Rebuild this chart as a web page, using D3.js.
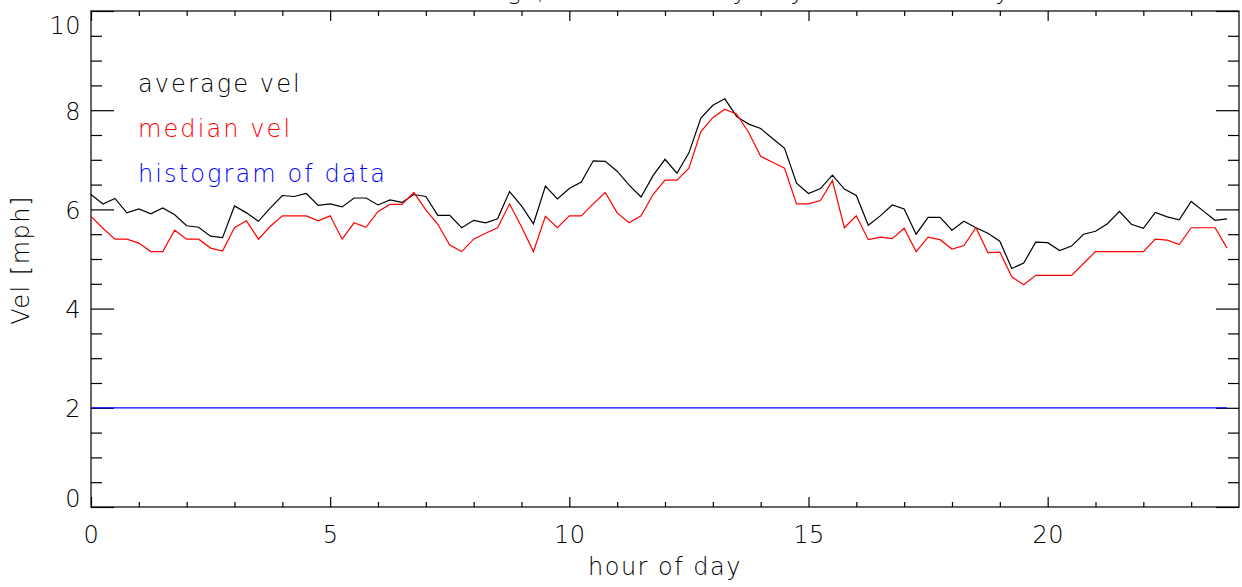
<!DOCTYPE html>
<html>
<head>
<meta charset="utf-8">
<script src="https://cdn.jsdelivr.net/npm/d3@7"></script>
<style>
  html, body { margin: 0; padding: 0; background: #fff; }
  svg text { font-family: "DejaVu Sans", sans-serif; font-weight: 200; }
</style>
</head>
<body>
<svg id="canvas" width="1242" height="587"></svg>
<script>
// hour of day, 15 minute bins
let hours = [
  0,0.25,0.5,0.75,1,1.25,1.5,1.75,2,2.25,2.5,2.75,3,3.25,3.5,3.75,4,4.25,4.5,4.75,5,5.25,5.5,5.75,
  6,6.25,6.5,6.75,7,7.25,7.5,7.75,8,8.25,8.5,8.75,9,9.25,9.5,9.75,10,10.25,10.5,10.75,11,11.25,11.5,11.75,
  12,12.25,12.5,12.75,13,13.25,13.5,13.75,14,14.25,14.5,14.75,15,15.25,15.5,15.75,16,16.25,16.5,16.75,17,17.25,17.5,17.75,
  18,18.25,18.5,18.75,19,19.25,19.5,19.75,20,20.25,20.5,20.75,21,21.25,21.5,21.75,22,22.25,22.5,22.75,23,23.25,23.5,23.75
];

let averageVel = [
  6.30,6.11,6.22,5.93,6.01,5.91,6.03,5.89,5.67,5.64,5.46,5.43,6.07,5.93,5.76,6.03,6.28,6.26,6.32,6.08,6.11,6.05,6.23,6.23,6.09,
  6.19,6.14,6.30,6.26,5.88,5.88,5.63,5.78,5.73,5.81,6.36,6.07,5.71,6.47,6.21,6.42,6.55,6.98,6.97,6.77,6.49,6.25,6.68,7.01,
  6.73,7.14,7.84,8.10,8.23,7.87,7.72,7.63,7.43,7.23,6.53,6.32,6.42,6.69,6.41,6.28,5.68,5.87,6.09,6.01,5.50,5.84,5.84,5.58,5.76,
  5.63,5.52,5.36,4.81,4.92,5.34,5.33,5.17,5.26,5.50,5.56,5.71,5.96,5.70,5.62,5.94,5.85,5.79,6.16,5.97,5.78,5.81
];

let medianVel = [
  5.86,5.62,5.40,5.40,5.32,5.15,5.15,5.58,5.40,5.40,5.22,5.16,5.63,5.77,5.40,5.66,5.87,5.87,5.87,5.77,5.87,5.40,5.73,5.64,5.96,
  6.10,6.10,6.34,5.99,5.70,5.28,5.15,5.40,5.52,5.63,6.11,5.65,5.15,5.86,5.63,5.87,5.87,6.11,6.34,5.93,5.73,5.87,6.30,6.59,
  6.59,6.83,7.57,7.85,8.02,7.92,7.55,7.07,6.95,6.83,6.11,6.11,6.18,6.58,5.63,5.87,5.39,5.44,5.41,5.62,5.15,5.44,5.39,5.20,5.27,
  5.63,5.13,5.14,4.64,4.48,4.67,4.67,4.67,4.67,4.91,5.15,5.15,5.15,5.15,5.15,5.40,5.38,5.29,5.63,5.63,5.63,5.22
];

// histogram of data, drawn flat on the 2 mph line
let histogram = [
  2,2,2,2,2,2,2,2,2,2,2,2,2,2,2,2,2,2,2,2,2,2,2,2,
  2,2,2,2,2,2,2,2,2,2,2,2,2,2,2,2,2,2,2,2,2,2,2,2,
  2,2,2,2,2,2,2,2,2,2,2,2,2,2,2,2,2,2,2,2,2,2,2,2,
  2,2,2,2,2,2,2,2,2,2,2,2,2,2,2,2,2,2,2,2,2,2,2,2
];

let seriesNames = ["average vel", "median vel", "histogram of data"];
let seriesColors = ["#000000", "#ff0000", "#0000ff"];

let xMajorTicks = [0, 5, 10, 15, 20];
let xMinorTicks = [1,2,3,4,6,7,8,9,11,12,13,14,16,17,18,19,21,22,23];
let yMajorTicks = [0, 2, 4, 6, 8, 10];
let yMinorTicks = [0.5,1,1.5,2.5,3,3.5,4.5,5,5.5,6.5,7,7.5,8.5,9,9.5];

let titleText = "All the buildings, all vehicles by day over the study";
let xTitle = "hour of day";
let yTitle = "Vel [mph]";

let canvas = d3.select("#canvas");

let pLeft = 91, pRight = 1239, pTop = 11, pBottom = 507;

let x = d3.scaleLinear().domain([0, 24]).range([pLeft, pRight]);
let y = d3.scaleLinear().domain([0, 10]).range([pBottom, pTop]);

// title, runs off the top of the page like the original
canvas.append("text")
  .attr("x", (pLeft + pRight) / 2)
  .attr("y", -1)
  .attr("text-anchor", "middle")
  .attr("font-size", 24)
  .attr("letter-spacing", 1.5)
  .attr("fill", "#000")
  .text(titleText);

// frame
canvas.append("rect")
  .attr("x", x(0)).attr("y", y(10))
  .attr("width", x(24) - x(0)).attr("height", y(0) - y(10))
  .attr("fill", "none").attr("stroke", "#000").attr("stroke-width", 1.2);

let styleAxis = (g) => {
  g.select(".domain").remove();
  g.selectAll(".tick line").attr("stroke", "#000").attr("stroke-width", 1.2);
  g.selectAll(".tick text")
    .attr("fill", "#000")
    .attr("font-size", 24)
    .attr("letter-spacing", 0.5);
};

// bottom
canvas.append("g").attr("transform", "translate(0," + pBottom + ")")
  .call(d3.axisBottom(x).tickValues(xMajorTicks).tickSizeInner(-10).tickSizeOuter(0).tickPadding(19).tickFormat(d3.format("d")))
  .call(styleAxis);
canvas.append("g").attr("transform", "translate(0," + pBottom + ")")
  .call(d3.axisBottom(x).tickValues(xMinorTicks).tickSizeInner(-5).tickSizeOuter(0).tickFormat(""))
  .call(styleAxis);

// top
canvas.append("g").attr("transform", "translate(0," + pTop + ")")
  .call(d3.axisTop(x).tickValues(xMajorTicks).tickSizeInner(-10).tickSizeOuter(0).tickFormat(""))
  .call(styleAxis);
canvas.append("g").attr("transform", "translate(0," + pTop + ")")
  .call(d3.axisTop(x).tickValues(xMinorTicks).tickSizeInner(-5).tickSizeOuter(0).tickFormat(""))
  .call(styleAxis);

// left
let yLeft = canvas.append("g").attr("transform", "translate(" + pLeft + ",0)")
  .call(d3.axisLeft(y).tickValues(yMajorTicks).tickSizeInner(-23).tickSizeOuter(0).tickPadding(10).tickFormat(d3.format("d")))
  .call(styleAxis);
yLeft.selectAll(".tick text")
  .attr("dy", (d) => d === 10 ? "0.95em" : (d === 0 ? "-0.02em" : "0.38em"));
canvas.append("g").attr("transform", "translate(" + pLeft + ",0)")
  .call(d3.axisLeft(y).tickValues(yMinorTicks).tickSizeInner(-11).tickSizeOuter(0).tickFormat(""))
  .call(styleAxis);

// right
canvas.append("g").attr("transform", "translate(" + pRight + ",0)")
  .call(d3.axisRight(y).tickValues(yMajorTicks).tickSizeInner(-23).tickSizeOuter(0).tickFormat(""))
  .call(styleAxis);
canvas.append("g").attr("transform", "translate(" + pRight + ",0)")
  .call(d3.axisRight(y).tickValues(yMinorTicks).tickSizeInner(-11).tickSizeOuter(0).tickFormat(""))
  .call(styleAxis);

// axis titles
canvas.append("text")
  .attr("x", (pLeft + pRight) / 2)
  .attr("y", 575)
  .attr("text-anchor", "middle")
  .attr("font-size", 24)
  .attr("letter-spacing", 1.5)
  .attr("fill", "#000")
  .text(xTitle);

canvas.append("text")
  .attr("transform", "translate(29,260) rotate(-90)")
  .attr("text-anchor", "middle")
  .attr("font-size", 24)
  .attr("letter-spacing", 1.5)
  .attr("fill", "#000")
  .text(yTitle);

// lines
let line = d3.line()
  .x((d) => x(d[0]))
  .y((d) => y(d[1]));

let series = [averageVel, medianVel, histogram];
series.forEach((values, i) => {
  canvas.append("path")
    .datum(hours.map((h, j) => [h, values[j]]))
    .attr("fill", "none")
    .attr("stroke", seriesColors[i])
    .attr("stroke-width", 1.2)
    .attr("stroke-linejoin", "miter")
    .attr("d", line);
});

// legend text
canvas.selectAll(".legend")
  .data(seriesNames)
  .enter()
  .append("text")
  .attr("class", "legend")
  .attr("x", 138)
  .attr("y", (d, i) => 92 + i * 45)
  .attr("font-size", 24)
  .attr("letter-spacing", 2.1)
  .attr("fill", (d, i) => seriesColors[i])
  .text((d) => d);
</script>
</body>
</html>
